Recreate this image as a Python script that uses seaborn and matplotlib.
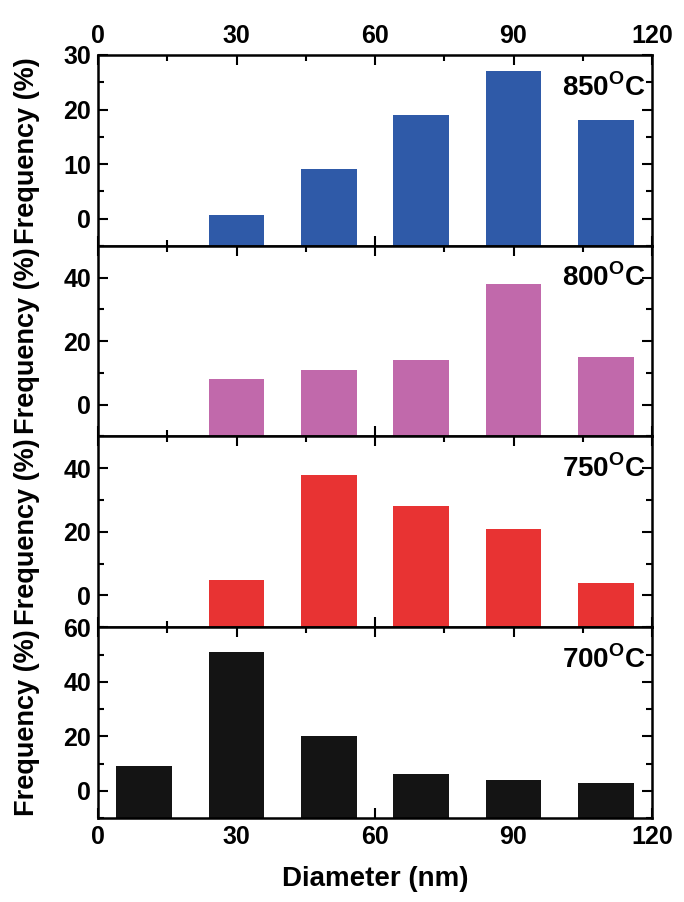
import numpy as np
import matplotlib
matplotlib.use("Agg")
import matplotlib.pyplot as plt
from matplotlib.ticker import MultipleLocator
import seaborn as sns

# ---- data ----
d_850 = [30, 50, 70, 90, 110]
f_850 = [0.6, 9, 19, 27, 18]
d_800 = [30, 50, 70, 90, 110]
f_800 = [8, 11, 14, 38, 15]
d_750 = [30, 50, 70, 90, 110]
f_750 = [5, 38, 28, 21, 4]
d_700 = [10, 30, 50, 70, 90, 110]
f_700 = [9, 51, 20, 6, 4, 3]

labels = ["850", "800", "750", "700"]
x_ticks = [0, 30, 60, 90, 120]

sns.set_style("ticks")
plt.rcParams["font.family"] = ["Liberation Sans", "DejaVu Sans"]
plt.rcParams["font.weight"] = "bold"
plt.rcParams["mathtext.fontset"] = "custom"
plt.rcParams["mathtext.rm"] = "Liberation Sans:bold"
plt.rcParams["mathtext.bf"] = "Liberation Sans:bold"
for k in ["text.color", "axes.labelcolor", "xtick.color", "ytick.color",
          "axes.edgecolor"]:
    plt.rcParams[k] = "black"

panels = [
    (d_850, f_850, "#2f5aa8", (-5, 30), 10, 5),
    (d_800, f_800, "#c169ab", (-10, 50), 20, 10),
    (d_750, f_750, "#e83333", (-10, 50), 20, 10),
    (d_700, f_700, "#141414", (-10, 60), 20, 10),
]

fig, axes = plt.subplots(4, 1, figsize=(6.84, 9.02), dpi=100, sharex=True)
fig.subplots_adjust(left=98 / 684, right=652 / 684, top=1 - 55 / 902,
                    bottom=1 - 818 / 902, hspace=0)

for i, (ax, (d, f, col, ylim, maj, mnr), lab) in enumerate(zip(axes, panels, labels)):
    ymin = ylim[0]
    sns.barplot(x=d, y=np.array(f, dtype=float) - ymin, native_scale=True,
                width=0.6, color=col, saturation=1, errorbar=None,
                bottom=ymin, linewidth=0, edgecolor="none", ax=ax)
    ax.set_xlim(0, 120)
    ax.set_ylim(*ylim)
    ax.set_axisbelow(True)
    ax.xaxis.set_major_locator(MultipleLocator(30))
    ax.xaxis.set_minor_locator(MultipleLocator(15))
    ax.yaxis.set_major_locator(MultipleLocator(maj))
    ax.yaxis.set_minor_locator(MultipleLocator(mnr))
    ax.tick_params(which="both", direction="in", top=True, right=True,
                   width=1.5, labelsize=18, pad=5, colors="black")
    ax.tick_params(which="major", length=7)
    ax.tick_params(which="minor", length=4)
    ax.tick_params(axis="x", labelbottom=(i == 3), labeltop=(i == 0))
    for sp in ax.spines.values():
        sp.set_linewidth(1.8)
        sp.set_color("black")
        sp.set_zorder(3)
    ax.set_ylabel("Frequency (%)", fontsize=19.5, fontweight="bold", color="black")
    ax.yaxis.set_label_coords(-0.105, 0.5)
    ax.set_xlabel("")
    ax.text(0.988, 0.905, lab + r"$^{\mathrm{O}}$C", transform=ax.transAxes,
            ha="right", va="top", fontsize=20, fontweight="bold", color="black")

axes[-1].set_xticks(x_ticks)
axes[-1].set_xlabel("Diameter (nm)", fontsize=20, fontweight="bold",
                    labelpad=12, color="black")

fig.savefig("out.png", dpi=100)
